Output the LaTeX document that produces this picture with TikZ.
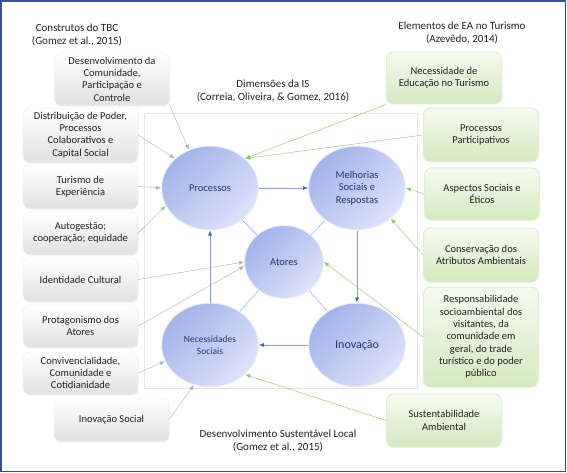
\documentclass[tikz,border=0pt]{standalone}
\usepackage{fontspec}
\setmainfont{Carlito}
\usepackage{tikz}
\usetikzlibrary{arrows.meta,shapes.geometric,shadows}
\definecolor{frameblue}{RGB}{47,85,151}
\definecolor{elldark}{RGB}{162,179,235}
\definecolor{elllight}{RGB}{221,227,248}
\definecolor{elltext}{RGB}{31,56,110}
\definecolor{boxgray}{RGB}{225,225,225}
\definecolor{boxline}{RGB}{236,236,236}
\definecolor{grnlight}{RGB}{245,250,239}
\definecolor{grndark}{RGB}{212,233,192}
\definecolor{grnline}{RGB}{224,239,210}
\definecolor{arrgray}{RGB}{178,178,178}
\definecolor{arrgreen}{RGB}{138,196,98}
\definecolor{arrblue}{RGB}{130,160,222}
\definecolor{tipblue}{RGB}{58,104,200}
\definecolor{txtdark}{RGB}{34,34,34}
\tikzstyle{title} = [align=center, text=txtdark, font=\fontsize{11}{13.5}\selectfont]
\tikzstyle{dim} = [ellipse, top color=elldark, bottom color=elllight, shading angle=45, draw=elllight!50!white, line width=1pt, text=elltext, align=center, inner sep=0pt, minimum width=97pt, minimum height=84pt, font=\fontsize{10.5}{12.3}\selectfont]
\tikzstyle{tbc} = [rectangle, rounded corners=7pt, top color=white, bottom color=boxgray, draw=boxline, minimum width=115pt, align=center, text=txtdark, font=\fontsize{10.5}{12.3}\selectfont, drop shadow={opacity=0.18, shadow xshift=0.4pt, shadow yshift=-1.4pt}]
\tikzstyle{ea} = [rectangle, rounded corners=7pt, top color=grnlight, bottom color=grndark, draw=grnline, line width=1pt, minimum width=115pt, align=center, text=txtdark, font=\fontsize{10.5}{12.3}\selectfont]
\tikzstyle{grayarrow} = [thin, -{Latex[length=5pt,width=4pt]}, color=arrgray]
\tikzstyle{greenarrow} = [thin, -{Latex[length=5pt,width=4pt]}, color=arrgreen]
\tikzstyle{bluearrow} = [thin, -{Latex[length=5pt,width=4pt,color=tipblue]}, color=arrblue]
\tikzstyle{blueline} = [thin, color=arrblue]

\begin{document}
\begin{tikzpicture}[x=1pt, y=-1pt]
    % Frame
    \useasboundingbox (0,0) rectangle (567,473);
    \fill[white] (0,0) rectangle (567,473);
    \draw[frameblue, line width=1.5pt] (1,1) rectangle (565.5,471.5);

    % Dimensions area
    \draw[gray!20, fill=white] (144,113) rectangle (417,388);

    % Titles
    \node[title] (ttbc) at (77,35) {Construtos do TBC\\(Gomez et al., 2015)};
    \node[title] (tis) at (273,91) {Dimensões da IS\\(Correia, Oliveira, \& Gomez, 2016)};
    \node[title] (tea) at (462,33) {Elementos de EA no Turismo\\(Azevêdo, 2014)};
    \node[title] (tdsl) at (278,441) {Desenvolvimento Sustentável Local\\(Gomez et al., 2015)};

    % IS dimensions
    \node[dim] (proc) at (210,188) {Processos};
    \node[dim] (melh) at (357,188) {Melhorias\\Sociais e\\Respostas};
    \node[dim, minimum width=79pt, minimum height=73pt] (ator) at (284,262) {Atores};
    \node[dim, font=\fontsize{9.5}{11.5}\selectfont] (nece) at (210,345) {Necessidades\\Sociais};
    \node[dim, font=\fontsize{12}{14}\selectfont] (inov) at (357,345) {Inovação};

    % TBC constructs
    \node[tbc, minimum height=52pt] (desenv) at (112,79) {Desenvolvimento da\\Comunidade,\\Participação e\\Controle};
    \node[tbc, minimum height=54pt] (poder) at (80.5,135) {Distribuição de Poder,\\Processos\\Colaborativos e\\Capital Social};
    \node[tbc, minimum height=43pt] (turexp) at (80.5,186.5) {Turismo de\\Experiência};
    \node[tbc, minimum height=42pt] (autog) at (80.5,233) {Autogestão;\\cooperação; equidade};
    \node[tbc, minimum height=43pt] (ident) at (80.5,279.5) {Identidade Cultural};
    \node[tbc, minimum height=42pt] (protag) at (80.5,326) {Protagonismo dos\\Atores};
    \node[tbc, minimum height=42pt] (conviv) at (80.5,373) {Convivencialidade,\\Comunidade e\\Cotidianidade};
    \node[tbc, minimum height=43pt] (inovsoc) at (111.5,419.5) {Inovação Social};

    % EA elements
    \node[ea, minimum height=52pt] (educ) at (444,78) {Necessidade de\\Educação no Turismo};
    \node[ea, minimum height=54pt] (partic) at (481,135) {Processos\\Participativos};
    \node[ea, minimum height=52pt] (etic) at (482,194) {Aspectos Sociais e\\Éticos};
    \node[ea, minimum height=54pt] (conserv) at (481,255) {Conservação dos\\Atributos Ambientais};
    \node[ea, minimum height=100pt] (resp) at (481,337) {Responsabilidade\\socioambiental dos\\visitantes, da\\comunidade em\\geral, do trade\\turístico e do poder\\público};
    \node[ea, minimum height=53pt] (sust) at (444,420.5) {Sustentabilidade\\Ambiental};

    % IS cycle
    \draw[bluearrow] (proc.east) -- (melh.west);
    \draw[bluearrow] (melh.south) -- (inov.north);
    \draw[bluearrow] (inov.west) -- (nece.east);
    \draw[bluearrow] (nece.north) -- (proc.south);
    \draw[blueline] (ator) -- (proc);
    \draw[blueline] (ator) -- (melh);
    \draw[blueline] (ator) -- (nece);
    \draw[blueline] (ator) -- (inov);

    % TBC links
    \draw[grayarrow] (desenv.south east) -- (proc.119);
    \draw[grayarrow] (poder.east) -- (proc.140);
    \draw[grayarrow] (turexp.east) -- (proc.west);
    \draw[grayarrow] (autog.east) -- (proc.202);
    \draw[grayarrow] (ident.east) -- (ator.180);
    \draw[grayarrow] (protag.east) -- (ator.186);
    \draw[grayarrow] (conviv.east) -- (nece.200);
    \draw[grayarrow] (inovsoc.east) -- (nece.248);

    % EA links
    \draw[greenarrow] (educ.south west) -- (proc.40);
    \draw[greenarrow] (partic.west) -- (proc.40);
    \draw[greenarrow] (etic.west) -- (melh.east);
    \draw[greenarrow] (conserv.west) -- (melh.-42);
    \draw[greenarrow] (resp.west) -- (ator.east);
    \draw[greenarrow] (sust.west) -- (nece.-40);
\end{tikzpicture}
\end{document}
